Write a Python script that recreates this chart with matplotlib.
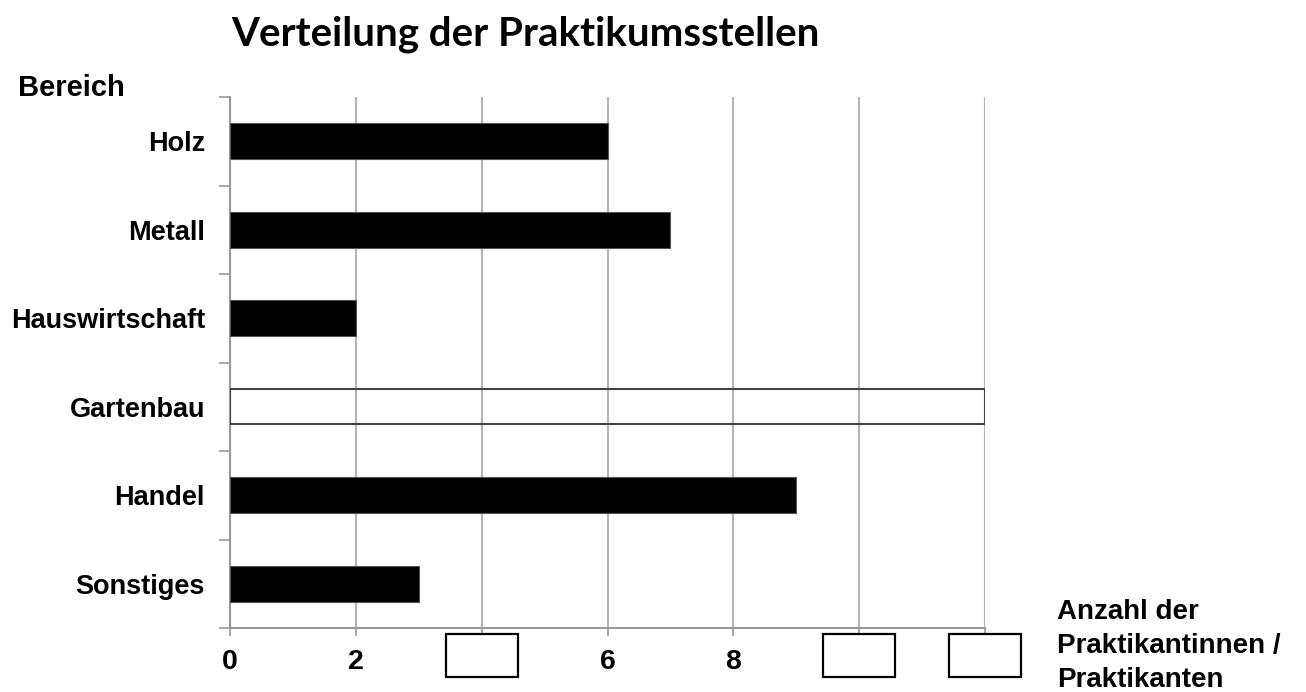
import matplotlib.pyplot as plt
from matplotlib.patches import Rectangle
from matplotlib.ticker import FixedLocator, NullFormatter

bereiche = ["Holz", "Metall", "Hauswirtschaft", "Gartenbau", "Handel", "Sonstiges"]
anzahl = [6, 7, 2, 12, 9, 3]
offen = [False, False, False, True, False, False]  # Gartenbau: leerer Balken
x_ticks = [0, 2, 4, 6, 8, 10, 12]
x_labels = ["0", "2", "", "6", "8", "", ""]
leere_kaesten = [4, 10, 12]

fig = plt.figure(figsize=(13.06, 6.92), dpi=100)
ax = fig.add_axes([230 / 1306, 1 - 628 / 692, 755 / 1306, 531 / 692])

pos = list(range(len(bereiche)))
for p, wert, leer in zip(pos, anzahl, offen):
    if leer:
        ax.barh(p, wert, height=0.4, facecolor="none", edgecolor="#444444",
                linewidth=1.5, zorder=3)
    else:
        ax.barh(p, wert, height=0.41, color="black", edgecolor="#555555",
                linewidth=0.8, zorder=3)

ax.set_xlim(0, 12)
ax.set_ylim(len(bereiche) - 0.5, -0.5)

# x axis
ax.set_xticks(x_ticks)
ax.set_xticklabels(x_labels, fontsize=20.5, fontweight="bold",
                   family="Liberation Sans")
ax.tick_params(axis="x", length=6, width=1.2, color="#999999", pad=9)
ax.grid(axis="x", color="#b5b5b5", linewidth=1.5, zorder=0)

# y axis: ticks at the borders, labels in the middle
ax.yaxis.set_major_locator(FixedLocator([p - 0.5 for p in pos] + [pos[-1] + 0.5]))
ax.yaxis.set_major_formatter(NullFormatter())
ax.yaxis.set_minor_locator(FixedLocator(pos))
ax.set_yticklabels(bereiche, minor=True, fontsize=19.5, fontweight="bold",
                   family="Liberation Sans")
ax.tick_params(axis="y", which="major", length=8, width=1.2, color="#999999")
ax.tick_params(axis="y", which="minor", length=0, pad=18)

for s in ["top", "right"]:
    ax.spines[s].set_visible(False)
for s in ["left", "bottom"]:
    ax.spines[s].set_color("#999999")
    ax.spines[s].set_linewidth(1.5)

# leere Kaesten statt Beschriftung
trans = ax.get_xaxis_transform()
for k in leere_kaesten:
    ax.add_patch(Rectangle((k - 0.57, -0.0923), 1.14, 0.081, transform=trans,
                           facecolor="white", edgecolor="black", linewidth=1.6,
                           clip_on=False, zorder=5))

fig.text(525 / 1306, 1 - 34 / 692, "Verteilung der Praktikumsstellen",
         ha="center", va="center", fontsize=29, fontweight="bold", family="Lato")
fig.text(18 / 1306, 1 - 88 / 692, "Bereich", ha="left", va="center",
         fontsize=21, fontweight="bold", family="Liberation Sans")
fig.text(1057 / 1306, 1 - 646 / 692, "Anzahl der\nPraktikantinnen /\nPraktikanten",
         ha="left", va="center", fontsize=20, fontweight="bold",
         family="Liberation Sans", linespacing=1.38)

fig.savefig("out.png", dpi=100, facecolor="white")
